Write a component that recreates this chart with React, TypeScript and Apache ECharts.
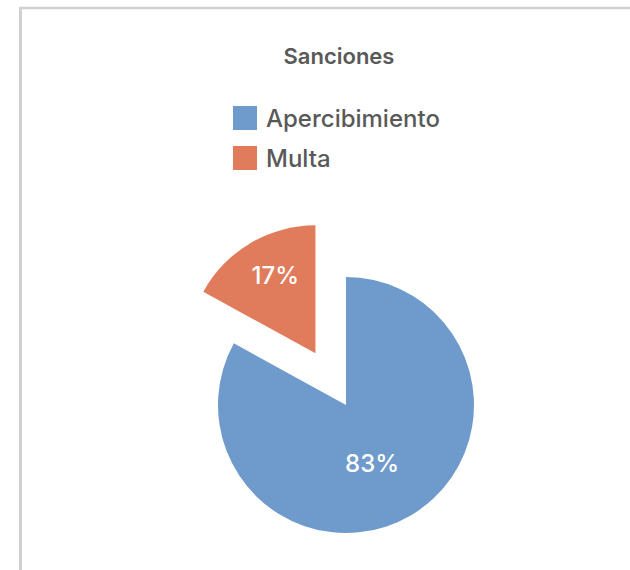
import React, { useEffect, useRef } from "react";
import * as echarts from "echarts";

const title = "Sanciones";
const categories = ["Apercibimiento", "Multa"];
const values = [83, 17];
const colors = ["#6f9bcc", "#e07b5b"];

export default function App() {
  const ref = useRef<HTMLDivElement>(null);
  useEffect(() => {
    const chart = echarts.init(ref.current!, null, { renderer: "svg" });
    const font = "Inter";
    chart.setOption({
      animation: false,
      backgroundColor: "#ffffff",
      title: {
        text: title,
        left: 334,
        top: 40,
        textAlign: "center",
        textStyle: { fontFamily: font, fontSize: 22, fontWeight: 600, color: "#595959" },
      },
      legend: {
        orient: "vertical",
        left: 228,
        top: 101,
        itemWidth: 24,
        itemHeight: 24,
        itemGap: 16,
        icon: "rect",
        selectedMode: false,
        data: categories,
        textStyle: { fontFamily: font, fontSize: 24, lineHeight: 24, fontWeight: 500, color: "#595959", padding: [0, 0, 0, 4] },
      },
      graphic: [
        { type: "line", shape: { x1: 20, y1: 8, x2: 630, y2: 8 }, style: { stroke: "#d0d0d0", lineWidth: 2.5 } },
        { type: "line", shape: { x1: 20.5, y1: 7, x2: 20.5, y2: 570 }, style: { stroke: "#d0d0d0", lineWidth: 3 } },
      ],
      series: [
        {
          type: "pie",
          center: [346, 405],
          radius: 128,
          startAngle: 90,
          clockwise: true,
          selectedMode: "single",
          selectedOffset: 60,
          percentPrecision: 0,
          silent: true,
          emphasis: { disabled: true },
          label: {
            show: true,
            position: "inside",
            formatter: "{d}%",
            fontFamily: font,
            fontSize: 24,
            fontWeight: 500,
            color: "#ffffff",
          },
          labelLine: { show: false },
          labelLayout: (params: any) =>
            params.dataIndex === 1 ? { dx: -6, dy: -20 } : { dx: -8, dy: 1 },
          data: categories.map((name, i) => ({
            name,
            value: values[i],
            selected: i === 1,
            itemStyle: { color: colors[i] },
          })),
        },
      ],
    });
    return () => chart.dispose();
  }, []);
  return (
    <div
      ref={ref}
      style={{ position: "fixed", left: 0, top: 0, width: 630, height: 570 }}
    />
  );
}
